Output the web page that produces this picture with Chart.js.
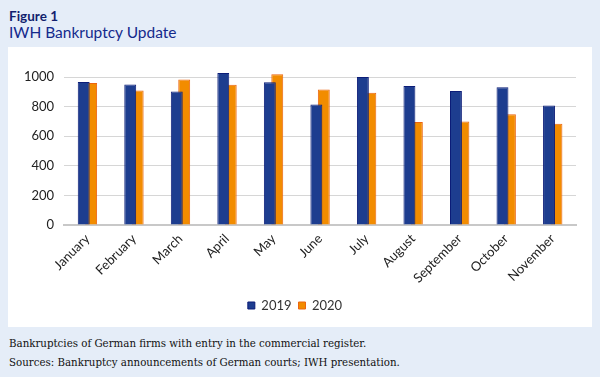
<!DOCTYPE html>
<html>
<head>
<meta charset="utf-8">
<script src="https://cdn.jsdelivr.net/npm/chart.js@4"></script>
<style>
  html, body { margin: 0; padding: 0; }
  body { width: 600px; height: 377px; background: #e5edf8; position: relative; overflow: hidden; font-family: Lato, sans-serif; }
  #fig { position: absolute; left: 9px; top: 8px; font-size: 13.5px; font-weight: bold; color: #121f6e; }
  #title { position: absolute; left: 9px; top: 23px; font-size: 15.5px; color: #142a8c; }
  #panel { position: absolute; left: 8px; top: 47px; width: 584px; height: 280px; background: #fff; }
  .note { position: absolute; left: 9px; font-family: "DejaVu Serif Condensed", "Liberation Serif", serif; font-size: 11.4px; color: #111; }
</style>
</head>
<body>
<div id="fig">Figure 1</div>
<div id="title">IWH Bankruptcy Update</div>
<div id="panel"><canvas id="myChart" width="584" height="280"></canvas></div>
<div class="note" style="top:336px">Bankruptcies of German firms with entry in the commercial register.</div>
<div class="note" style="top:355px">Sources: Bankruptcy announcements of German courts; IWH presentation.</div>
<script>
// months and yearly values
const months = ['January', 'February', 'March', 'April', 'May', 'June', 'July', 'August', 'September', 'October', 'November'];
const values2019 = [966, 950, 902, 1027, 964, 814, 1000, 939, 905, 930, 807];
const values2020 = [959, 909, 983, 948, 1018, 916, 893, 696, 700, 748, 684];
const yTicks = [0, 200, 400, 600, 800, 1000];

const data = {
  labels: months,
  datasets: [
    {
      label: '2019',
      data: values2019,
      backgroundColor: '#1d3d8f',
      borderColor: '#0c1d78',
      borderWidth: 1,
      clip: false
    },
    {
      label: '2020',
      data: values2020,
      backgroundColor: '#f28c00',
      borderColor: '#ec6410',
      borderWidth: 1,
      clip: false
    }
  ]
};

const ctx = document.getElementById('myChart');
new Chart(ctx, {
  type: 'bar',
  data: data,
  options: {
    responsive: false,
    animation: false,
    categoryPercentage: 0.32,
    barPercentage: 1.6,
    layout: { padding: { left: 6, right: 16, top: 30, bottom: 5 } },
    plugins: {
      legend: {
        position: 'bottom',
        labels: {
          boxWidth: 7, boxHeight: 7, padding: 7,
          color: '#333',
          font: { family: 'Lato', size: 13 }
        }
      },
      tooltip: { enabled: false }
    },
    scales: {
      x: {
        grid: { display: false, drawTicks: false },
        border: { color: '#c8c8c8', width: 2 },
        ticks: {
          minRotation: 45, maxRotation: 45, padding: 6,
          color: '#222',
          font: { family: 'Lato', size: 13 }
        }
      },
      y: {
        min: 0,
        max: 1000,
        afterBuildTicks: (axis) => { axis.ticks = yTicks.map(v => ({ value: v })); },
        grid: { color: '#d6d6d6', drawTicks: false },
        border: { display: false },
        ticks: {
          padding: 10,
          color: '#222',
          font: { family: 'Lato', size: 13 },
          callback: (v) => String(v)
        }
      }
    }
  }
});
</script>
</body>
</html>
